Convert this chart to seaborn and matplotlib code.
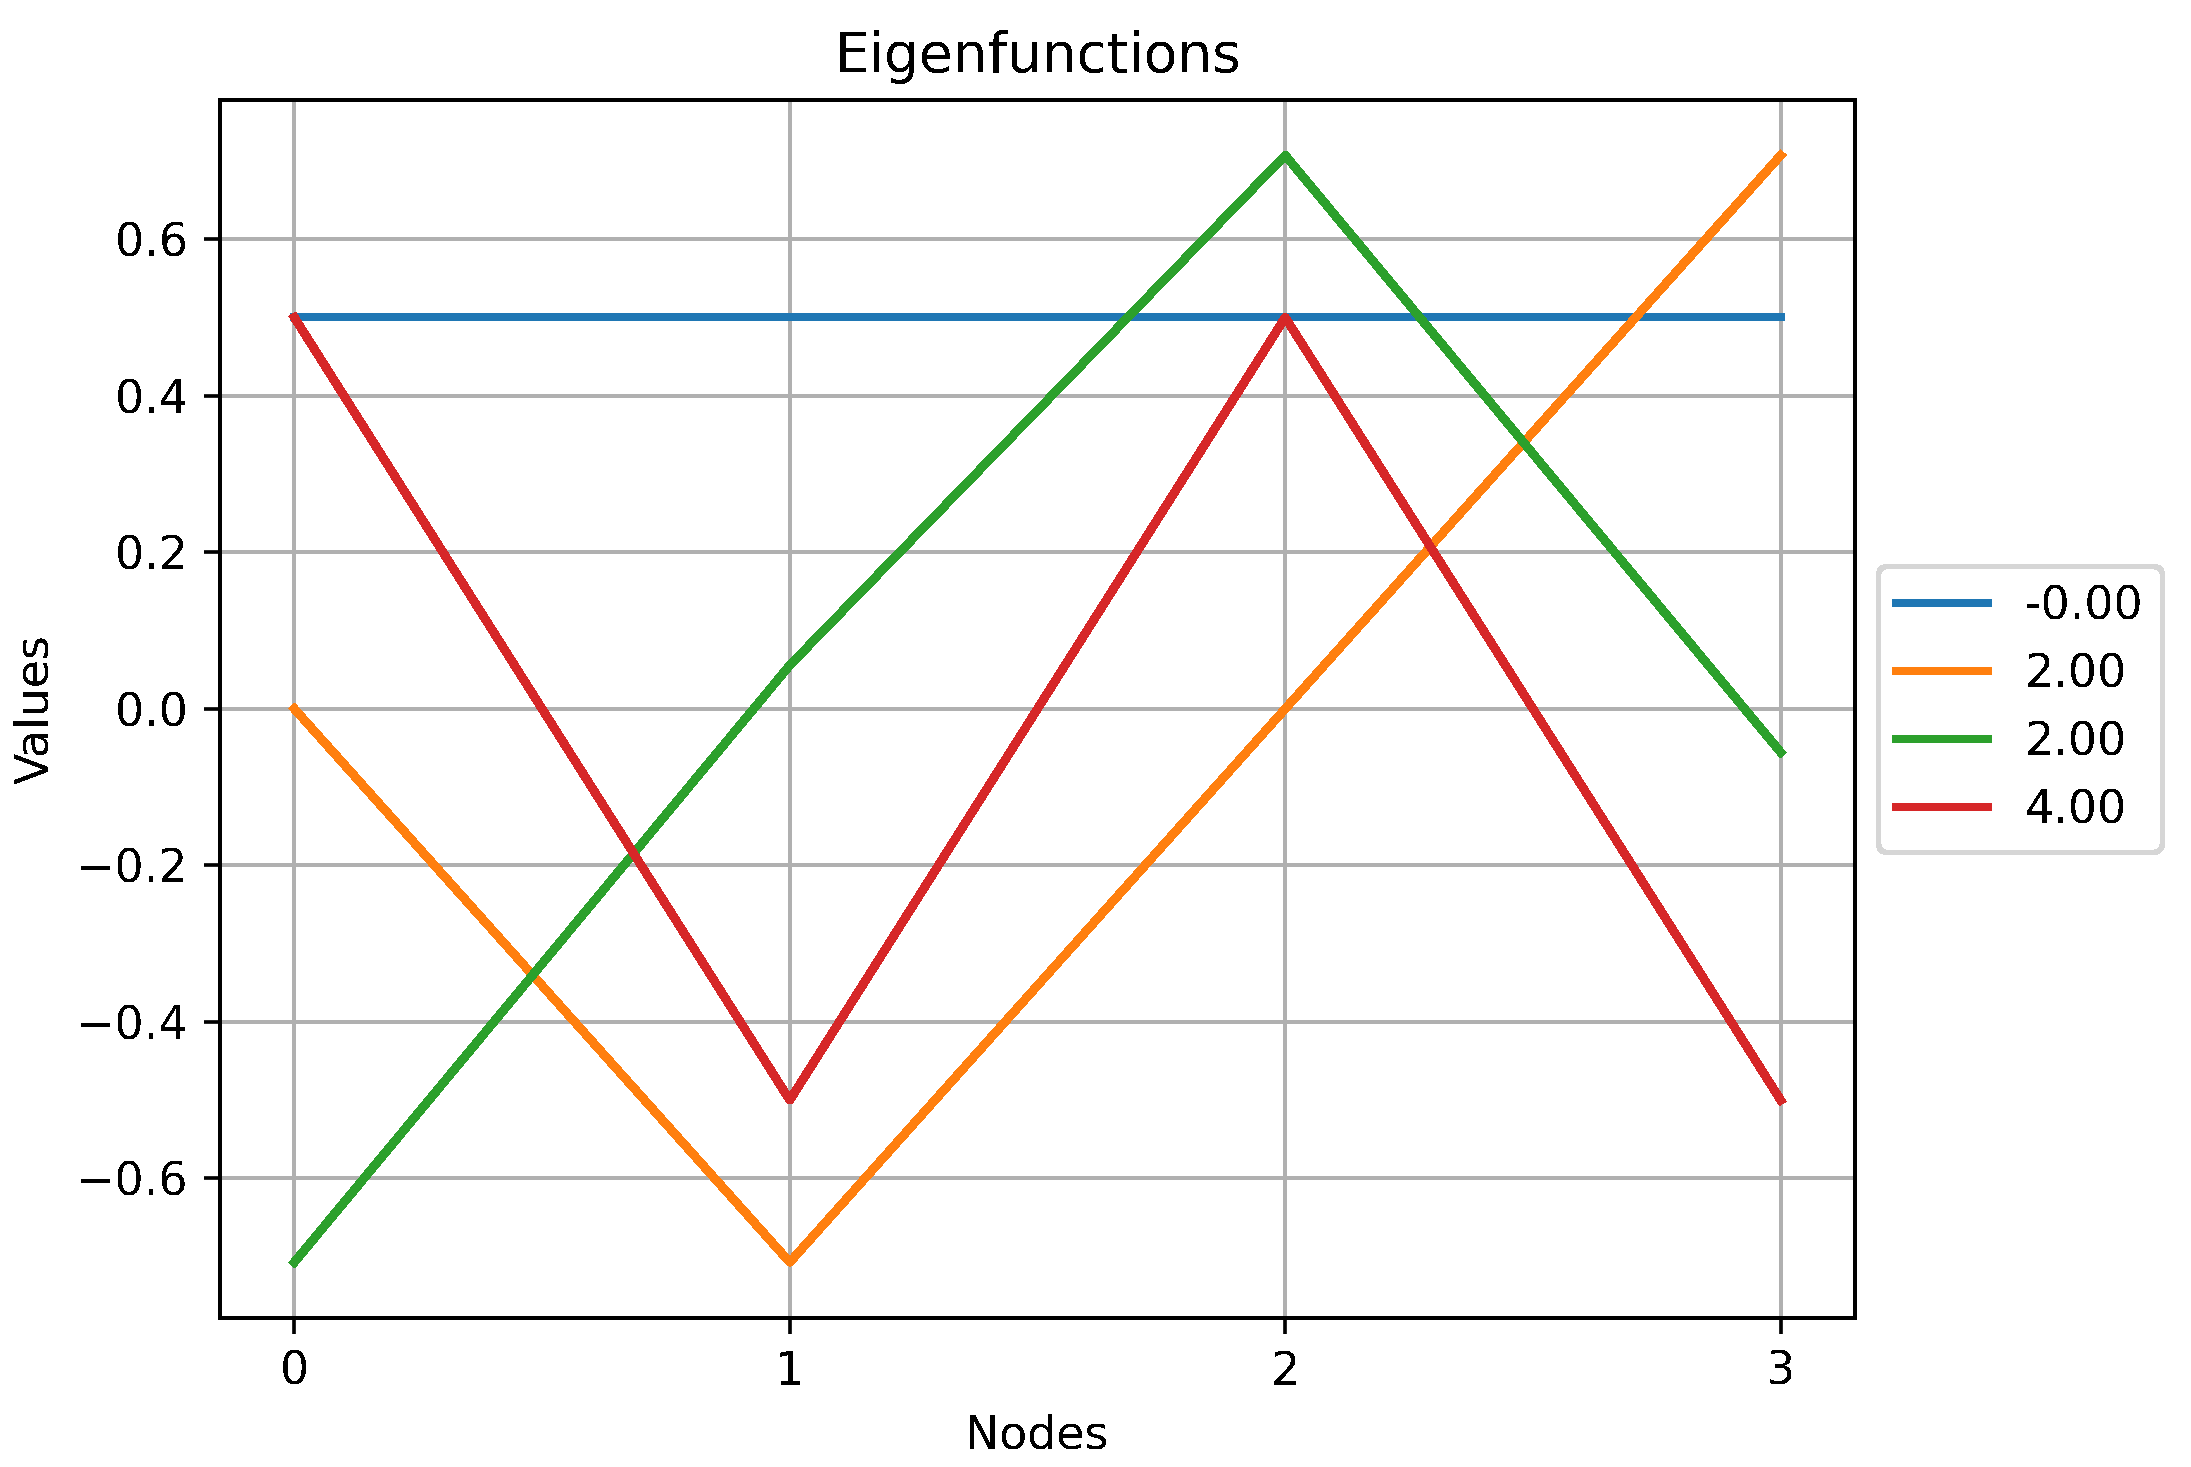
import numpy as np
import matplotlib
matplotlib.use("Agg")
import matplotlib.pyplot as plt
import seaborn as sns

# eigenvectors of the path-like graph, one per eigenvalue
nodes = [0, 1, 2, 3]
eigenvalues = ["-0.00", "2.00", "2.00", "4.00"]
vec_0 = [0.5, 0.5, 0.5, 0.5]
vec_1 = [0.0, -0.7071, 0.0, 0.7071]
vec_2 = [-0.7071, 0.0556, 0.7071, -0.0556]
vec_3 = [0.5, -0.5, 0.5, -0.5]
vectors = [vec_0, vec_1, vec_2, vec_3]

# the reference is rendered without anti-aliasing
plt.rcParams["text.antialiased"] = False
plt.rcParams["lines.antialiased"] = False
plt.rcParams["patch.antialiased"] = False

DPI = 330
fig = plt.figure(figsize=(2191 / DPI, 1467 / DPI), dpi=DPI)
ax = fig.add_axes([220 / 2191, 149.4 / 1467, 1635 / 2191, 1217.6 / 1467])

for vals, lab in zip(vectors, eigenvalues):
    sns.lineplot(x=nodes, y=vals, label=lab, ax=ax, linewidth=1.7)

ax.set_xticks(nodes)
ax.grid(True, linewidth=0.85)
ax.set_title("Eigenfunctions")
ax.set_xlabel("Nodes")
ax.set_ylabel("Values")
ax.legend(loc="center left", bbox_to_anchor=(1, 0.5))

fig.savefig("out.png", dpi=DPI)
